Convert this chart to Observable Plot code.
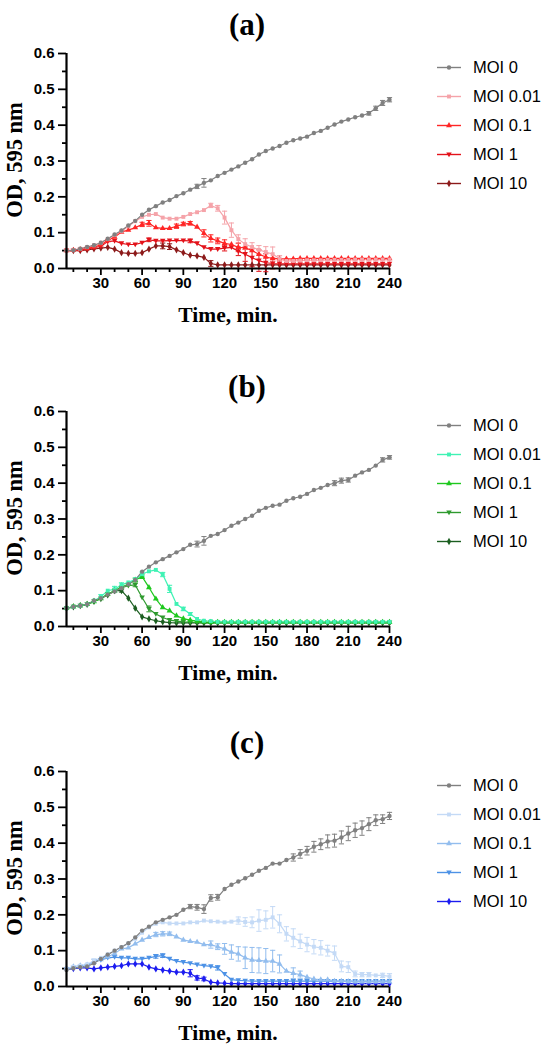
<!DOCTYPE html>
<html><head><meta charset="utf-8">
<script src="https://cdn.jsdelivr.net/npm/d3@7"></script>
<script src="https://cdn.jsdelivr.net/npm/@observablehq/plot@0.6"></script>
<style>
body{margin:0;background:#fff}
#root{position:relative;width:550px;height:1051px;overflow:hidden;background:#fff}
.ttl{position:absolute;font-family:"Liberation Serif","Times New Roman",serif;font-weight:bold;font-size:31px;transform:translate(-50%,-50%);white-space:nowrap}
.xl{position:absolute;font-family:"Liberation Serif","Times New Roman",serif;font-weight:bold;font-size:21.5px;transform:translate(-50%,-50%);white-space:nowrap}
.yl{position:absolute;font-family:"Liberation Serif","Times New Roman",serif;font-weight:bold;font-size:22.5px;transform:translate(-50%,-50%) rotate(-90deg);white-space:nowrap}
svg.p{position:absolute;left:0}
</style>
</head><body><div id="root"></div>
<script>
// ---------- data ----------
const times = [5,10,15,20,25,30,35,40,45,50,55,60,65,70,75,80,85,90,95,100,105,110,115,120,
  125,130,135,140,145,150,155,160,165,170,175,180,185,190,195,200,205,210,215,220,225,230,235,240];
const moiNames = ["MOI 0","MOI 0.01","MOI 0.1","MOI 1","MOI 10"];
const xMajorTicks = [30,60,90,120,150,180,210,240];
const xMinorTicks = [10,20,40,50,70,80,100,110,130,140,160,170,190,200,220,230];
const yMajorTicks = [0,0.1,0.2,0.3,0.4,0.5,0.6];
const yMinorTicks = [0.05,0.15,0.25,0.35,0.45,0.55];
const panelTitles = ["(a)","(b)","(c)"];

// Panel (a)
const a_moi0 = [0.050,0.051,0.055,0.060,0.065,0.072,0.083,0.095,0.106,0.120,0.133,0.150,
  0.164,0.174,0.184,0.191,0.202,0.210,0.220,0.229,0.239,0.246,0.258,0.267,
  0.276,0.285,0.295,0.305,0.318,0.328,0.335,0.342,0.351,0.358,0.363,0.368,
  0.378,0.384,0.393,0.402,0.410,0.416,0.422,0.427,0.433,0.447,0.462,0.471];
const a_moi001 = [0.050,0.052,0.055,0.060,0.065,0.072,0.082,0.093,0.104,0.118,0.132,0.144,
  0.150,0.152,0.142,0.139,0.139,0.144,0.152,0.157,0.163,0.176,0.168,0.142,
  0.107,0.082,0.068,0.060,0.052,0.046,0.040,0.028,0.021,0.021,0.022,0.023,
  0.023,0.023,0.024,0.024,0.024,0.024,0.025,0.025,0.025,0.025,0.025,0.025];
const a_moi01 = [0.050,0.051,0.053,0.056,0.060,0.066,0.078,0.088,0.102,0.107,0.114,0.123,
  0.126,0.114,0.112,0.112,0.118,0.124,0.126,0.116,0.098,0.084,0.077,0.070,
  0.067,0.059,0.058,0.050,0.040,0.032,0.028,0.027,0.027,0.027,0.028,0.028,
  0.028,0.028,0.028,0.028,0.028,0.028,0.028,0.028,0.028,0.028,0.028,0.028];
const a_moi1 = [0.050,0.050,0.052,0.055,0.058,0.062,0.075,0.077,0.070,0.067,0.067,0.072,
  0.080,0.077,0.077,0.078,0.078,0.078,0.077,0.070,0.059,0.054,0.054,0.057,
  0.059,0.048,0.040,0.030,0.022,0.016,0.014,0.013,0.013,0.013,0.013,0.013,
  0.013,0.013,0.013,0.013,0.013,0.013,0.013,0.013,0.013,0.013,0.013,0.013];
const a_moi10 = [0.050,0.050,0.050,0.052,0.055,0.057,0.059,0.054,0.044,0.042,0.042,0.044,
  0.054,0.063,0.063,0.061,0.052,0.044,0.037,0.035,0.031,0.014,0.010,0.010,
  0.010,0.010,0.010,0.010,0.010,0.010,0.010,0.010,0.010,0.010,0.010,0.010,
  0.010,0.010,0.010,0.010,0.010,0.010,0.010,0.010,0.010,0.010,0.010,0.010];
// error bars: [time, sd]
const a_err0 = [[100,0.006],[105,0.012],[225,0.005],[230,0.006],[235,0.007],[240,0.006]];
const a_err001 = [[110,0.006],[115,0.008],[120,0.018],[125,0.02],[130,0.012],[135,0.015],[140,0.012],[145,0.012],[150,0.015],[155,0.02],[160,0.008]];
const a_err01 = [[60,0.006],[65,0.008],[85,0.006],[90,0.005],[95,0.005],[105,0.01],[110,0.01],[115,0.008],[120,0.01],[130,0.012]];
const a_err1 = [[65,0.005],[95,0.005],[120,0.008],[130,0.012],[135,0.02],[140,0.025],[145,0.03],[150,0.025],[155,0.015]];
const a_err10 = [[75,0.008],[80,0.008],[110,0.008]];

// Panel (b)
const b_moi0 = [0.051,0.055,0.058,0.062,0.072,0.079,0.089,0.098,0.107,0.118,0.130,0.153,
  0.167,0.179,0.188,0.197,0.207,0.216,0.228,0.230,0.239,0.253,0.258,0.269,
  0.281,0.290,0.300,0.309,0.323,0.331,0.337,0.340,0.351,0.358,0.362,0.370,
  0.381,0.387,0.395,0.400,0.407,0.409,0.421,0.430,0.437,0.449,0.465,0.472];
const b_moi001 = [0.051,0.055,0.058,0.062,0.072,0.083,0.100,0.104,0.116,0.123,0.132,0.146,
  0.154,0.158,0.145,0.105,0.063,0.049,0.035,0.021,0.016,0.015,0.013,0.013,
  0.013,0.013,0.013,0.013,0.013,0.013,0.013,0.013,0.013,0.013,0.013,0.013,
  0.013,0.013,0.013,0.013,0.013,0.013,0.013,0.013,0.013,0.013,0.013,0.013];
const b_moi01 = [0.051,0.055,0.058,0.062,0.070,0.078,0.090,0.100,0.110,0.118,0.130,0.139,
  0.109,0.077,0.053,0.044,0.030,0.022,0.018,0.015,0.013,0.012,0.012,0.012,
  0.012,0.012,0.012,0.012,0.012,0.012,0.012,0.012,0.012,0.012,0.012,0.012,
  0.012,0.012,0.012,0.012,0.012,0.012,0.012,0.012,0.012,0.012,0.012,0.012];
const b_moi1 = [0.051,0.055,0.058,0.062,0.070,0.078,0.090,0.100,0.108,0.114,0.116,0.081,
  0.049,0.035,0.025,0.018,0.015,0.013,0.012,0.011,0.011,0.011,0.011,0.011,
  0.011,0.011,0.011,0.011,0.011,0.011,0.011,0.011,0.011,0.011,0.011,0.011,
  0.011,0.011,0.011,0.011,0.011,0.011,0.011,0.011,0.011,0.011,0.011,0.011];
const b_moi10 = [0.051,0.055,0.058,0.062,0.070,0.078,0.088,0.100,0.100,0.079,0.051,0.027,
  0.021,0.016,0.013,0.011,0.010,0.010,0.010,0.010,0.010,0.010,0.010,0.010,
  0.010,0.010,0.010,0.010,0.010,0.010,0.010,0.010,0.010,0.010,0.010,0.010,
  0.010,0.010,0.010,0.010,0.010,0.010,0.010,0.010,0.010,0.010,0.010,0.010];
const b_err0 = [[100,0.008],[105,0.012],[200,0.007],[205,0.007],[210,0.006],[235,0.006],[240,0.005]];
const b_err001 = [[30,0.006],[40,0.008],[45,0.006],[60,0.006],[75,0.006],[80,0.01],[90,0.005],[95,0.004]];
const b_err01 = [[55,0.005],[60,0.005]];
const b_err1 = [[55,0.005],[65,0.008]];
const b_err10 = [[45,0.004]];

// Panel (c)
const c_moi0 = [0.046,0.051,0.054,0.056,0.065,0.077,0.089,0.100,0.110,0.121,0.137,0.156,
  0.167,0.179,0.186,0.193,0.200,0.214,0.223,0.221,0.216,0.247,0.249,0.272,
  0.284,0.293,0.302,0.312,0.323,0.331,0.343,0.343,0.353,0.360,0.370,0.379,
  0.390,0.397,0.405,0.407,0.416,0.427,0.436,0.442,0.453,0.464,0.467,0.476];
const c_moi001 = [0.050,0.055,0.058,0.062,0.072,0.080,0.090,0.100,0.110,0.120,0.133,0.150,
  0.165,0.175,0.179,0.176,0.176,0.176,0.179,0.179,0.184,0.182,0.181,0.179,
  0.181,0.184,0.180,0.179,0.184,0.186,0.193,0.175,0.147,0.136,0.126,0.117,
  0.111,0.108,0.100,0.093,0.056,0.054,0.035,0.033,0.033,0.031,0.031,0.028];
const c_moi01 = [0.050,0.055,0.058,0.060,0.068,0.075,0.083,0.092,0.105,0.108,0.119,0.130,
  0.137,0.145,0.147,0.147,0.139,0.130,0.126,0.124,0.117,0.117,0.111,0.105,
  0.096,0.091,0.080,0.074,0.073,0.071,0.071,0.063,0.043,0.037,0.033,0.026,
  0.021,0.019,0.019,0.015,0.015,0.014,0.013,0.013,0.013,0.013,0.013,0.013];
const c_moi1 = [0.048,0.052,0.055,0.058,0.072,0.074,0.080,0.082,0.080,0.080,0.077,0.077,
  0.080,0.084,0.086,0.077,0.071,0.068,0.065,0.061,0.058,0.056,0.052,0.035,
  0.019,0.017,0.016,0.015,0.015,0.015,0.015,0.015,0.015,0.015,0.015,0.015,
  0.015,0.015,0.015,0.015,0.015,0.015,0.015,0.015,0.015,0.015,0.015,0.015];
const c_moi10 = [0.048,0.050,0.052,0.052,0.049,0.052,0.054,0.056,0.058,0.063,0.063,0.063,
  0.054,0.049,0.046,0.043,0.040,0.040,0.037,0.024,0.021,0.012,0.010,0.009,
  0.008,0.008,0.008,0.008,0.008,0.008,0.008,0.008,0.008,0.008,0.008,0.008,
  0.008,0.008,0.008,0.008,0.008,0.008,0.008,0.008,0.008,0.008,0.008,0.008];
const c_err0 = [[95,0.006],[100,0.008],[105,0.012],[110,0.009],[115,0.008],[170,0.01],[175,0.012],[180,0.012],[185,0.015],[190,0.015],[195,0.018],[200,0.018],[205,0.018],[210,0.02],[215,0.02],[220,0.02],[225,0.018],[230,0.015],[235,0.012],[240,0.01]];
const c_err001 = [[130,0.01],[135,0.012],[140,0.015],[145,0.03],[150,0.025],[155,0.03],[160,0.025],[165,0.02],[170,0.025],[175,0.02],[180,0.02],[185,0.02],[190,0.02],[195,0.015],[200,0.02],[205,0.015],[210,0.015],[215,0.008],[220,0.006],[225,0.006],[235,0.006],[240,0.008]];
const c_err01 = [[70,0.006],[75,0.006],[80,0.005],[110,0.01],[115,0.008],[120,0.015],[125,0.02],[130,0.02],[135,0.03],[140,0.035],[145,0.035],[150,0.035],[155,0.03],[160,0.025],[170,0.015],[175,0.01]];
const c_err1 = [[70,0.005],[75,0.005],[115,0.006]];
const c_err10 = [[95,0.01],[100,0.006],[105,0.005]];

const panelColors = [
  ["#808080","#f5a3a9","#ff2626","#e3121a","#8c1a1a"],
  ["#808080","#3ff2b4","#1ec81e","#2e9a2e","#1b5e20"],
  ["#808080","#c4daf6","#92bdee","#4d92e6","#1c1cf0"]
];
const panelSeries = [
  [a_moi0,a_moi001,a_moi01,a_moi1,a_moi10],
  [b_moi0,b_moi001,b_moi01,b_moi1,b_moi10],
  [c_moi0,c_moi001,c_moi01,c_moi1,c_moi10]
];
const panelErrs = [
  [a_err0,a_err001,a_err01,a_err1,a_err10],
  [b_err0,b_err001,b_err01,b_err1,b_err10],
  [c_err0,c_err001,c_err01,c_err1,c_err10]
];

// ---------- drawing ----------
const triDown = {draw(ctx, size){ const s = Math.sqrt(size/Math.PI)*1.25; ctx.moveTo(-s,-s*0.75); ctx.lineTo(s,-s*0.75); ctx.lineTo(0,s); ctx.closePath(); }};
const capSym = {draw(ctx, size){ const w = Math.sqrt(size/Math.PI); ctx.moveTo(-w,0); ctx.lineTo(w,0); }};
const symbolRange = ["circle","square","triangle",triDown,"diamond"];

const root = document.getElementById("root");
const panelTops = [0,358,718];
const titleY = [25,387,743];

panelSeries.forEach((series, p) => {
  const data = [];
  // draw highest MOI first so that MOI 0 ends up on top
  for (let s = series.length - 1; s >= 0; s--) {
    series[s].forEach((v, i) => data.push({t: times[i], v, name: moiNames[s]}));
  }
  const errData = [];
  for (let s = series.length - 1; s >= 0; s--) {
    panelErrs[p][s].forEach(([t, e]) => {
      const v = series[s][times.indexOf(t)];
      errData.push({t, lo: v - e, hi: v + e, name: moiNames[s]});
    });
  }
  const svg = Plot.plot({
    width: 550, height: 330,
    marginLeft: 66, marginRight: 161, marginTop: 53, marginBottom: 62,
    x: {domain: [5,240]},
    y: {domain: [0,0.6]},
    color: {domain: moiNames, range: panelColors[p]},
    symbol: {domain: moiNames, range: symbolRange},
    style: {fontFamily: "'Liberation Sans', Arial, sans-serif", fontWeight: "bold", fontSize: "15px", color: "#000", background: "transparent", overflow: "visible"},
    marks: [
      Plot.axisX({ticks: xMinorTicks, tickSize: 4, strokeWidth: 1.8, tickFormat: () => "", label: null}),
      Plot.axisX({ticks: xMajorTicks, tickSize: 7, tickPadding: 2, strokeWidth: 1.8, label: null, fontSize: 15, fontWeight: "bold"}),
      Plot.axisY({ticks: yMinorTicks, tickSize: 4, strokeWidth: 1.8, tickFormat: () => "", label: null}),
      Plot.axisY({ticks: yMajorTicks, tickSize: 8, tickPadding: 4, strokeWidth: 1.8, tickFormat: d => d.toFixed(1), label: null, fontSize: 15, fontWeight: "bold"}),
      Plot.ruleX(errData, {x: "t", y1: "lo", y2: "hi", stroke: "name", strokeWidth: 1}),
      Plot.dot(errData, {x: "t", y: "lo", symbol: () => capSym, r: 2.6, stroke: "name", strokeWidth: 1, fill: "none"}),
      Plot.dot(errData, {x: "t", y: "hi", symbol: () => capSym, r: 2.6, stroke: "name", strokeWidth: 1, fill: "none"}),
      Plot.line(data, {x: "t", y: "v", z: "name", stroke: "name", strokeWidth: 1.2}),
      Plot.dot(data, {x: "t", y: "v", symbol: "name", fill: "name", r: 2.2}),
      Plot.ruleY([0], {stroke: "#000", strokeWidth: 2.2}),
      Plot.ruleX([5], {stroke: "#000", strokeWidth: 2.2})
    ]
  });
  svg.classList.add("p");
  svg.style.top = panelTops[p] + "px";
  root.appendChild(svg);

  // legend
  const lg = d3.select(svg).append("g")
    .attr("font-family", "'Liberation Sans', Arial, sans-serif")
    .attr("font-size", 16.5).attr("font-weight", "normal").attr("text-anchor", "start");
  moiNames.forEach((nm, s) => {
    const y = 67.5 + s * 29;
    const col = panelColors[p][s];
    lg.append("line").attr("x1", 437).attr("x2", 461).attr("y1", y).attr("y2", y).attr("stroke", col).attr("stroke-width", 1.4);
    const sym = typeof symbolRange[s] === "string" ? ({circle: d3.symbolCircle, square: d3.symbolSquare, triangle: d3.symbolTriangle, diamond: d3.symbolDiamond})[symbolRange[s]] : symbolRange[s];
    lg.append("path").attr("d", d3.symbol(sym, Math.PI * 2.2 * 2.2)()).attr("transform", `translate(449,${y})`).attr("fill", col);
    lg.append("text").attr("x", 473).attr("y", y).attr("dy", "0.36em").attr("fill", "#000").attr("text-anchor", "start").text(nm);
  });

  const t = document.createElement("div"); t.className = "ttl"; t.textContent = panelTitles[p];
  t.style.left = "247px"; t.style.top = titleY[p] + "px"; root.appendChild(t);
  const xl = document.createElement("div"); xl.className = "xl"; xl.textContent = "Time, min.";
  xl.style.left = "228px"; xl.style.top = (panelTops[p] + 315) + "px"; root.appendChild(xl);
  const yl = document.createElement("div"); yl.className = "yl"; yl.textContent = "OD, 595 nm";
  yl.style.left = "15px"; yl.style.top = (panelTops[p] + 160) + "px"; root.appendChild(yl);
});
</script>
</body></html>
